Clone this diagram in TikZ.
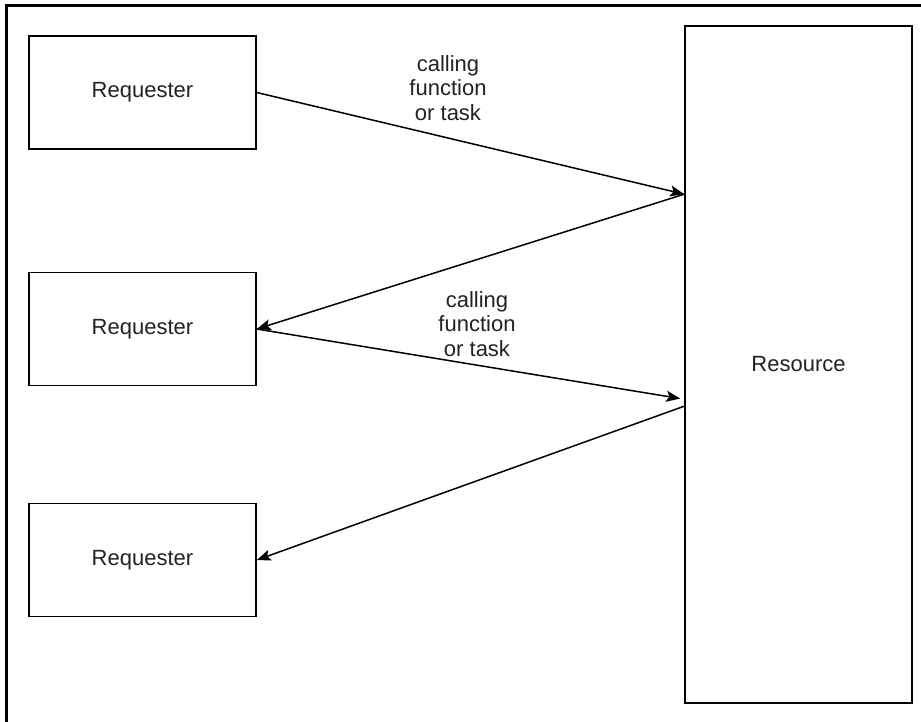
\documentclass[tikz,border=0pt]{standalone}
\usepackage{fontspec}
\setmainfont{Liberation Sans}
\usetikzlibrary{arrows.meta,calc}
\definecolor{inktext}{HTML}{222222}
\tikzset{
  box/.style={draw=black, line width=1.6pt, minimum width=227pt, minimum height=113pt,
              inner sep=0pt, font=\fontsize{22}{25}\selectfont, text=inktext},
  flow/.style={draw=black, line width=1.5pt, -{Stealth[length=14pt,width=11pt,inset=3pt]}},
  lbl/.style={align=center, inner sep=0pt, font=\fontsize{22}{24.5}\selectfont, text=inktext},
  frame/.style={draw=black, line width=3pt}
}
\begin{document}
\begin{tikzpicture}[x=1pt,y=-1pt]
  \useasboundingbox (0,0) rectangle (921,721);
  % outer frame (runs past the right and bottom edges)
  \begin{scope}
    \clip (0,0) rectangle (921,721);
    \draw[frame] (6,740) -- (6,5) -- (940,5);
  \end{scope}

  % requesters and the shared resource
  \node[box] (r1) at (142.5,92.5) {Requester};
  \node[box] (r2) at (142.5,329) {Requester};
  \node[box] (r3) at (142.5,560) {Requester};
  \node[box, minimum height=677pt] (res) at (798.5,364.5) {Resource};

  % attachment points on the resource's left side
  \coordinate (p1) at ($(res.north west)+(0,169)$);
  \coordinate (p3) at ($(res.north west)+(0,374)$);
  \coordinate (p4) at ($(res.north west)+(0,381)$);

  % calls and replies
  \draw[flow] (r1.east) -- (p1);
  \draw[flow] (p1) -- (r2.east);
  \draw[flow, shorten >=4pt] (r2.east) -- (p3);
  \draw[flow] (p4) -- (r3.east);

  % call labels
  \node[lbl] (l1) at (448,88) {calling\\function\\or task};
  \node[lbl] (l2) at (477,324) {calling\\function\\or task};
\end{tikzpicture}
\end{document}
